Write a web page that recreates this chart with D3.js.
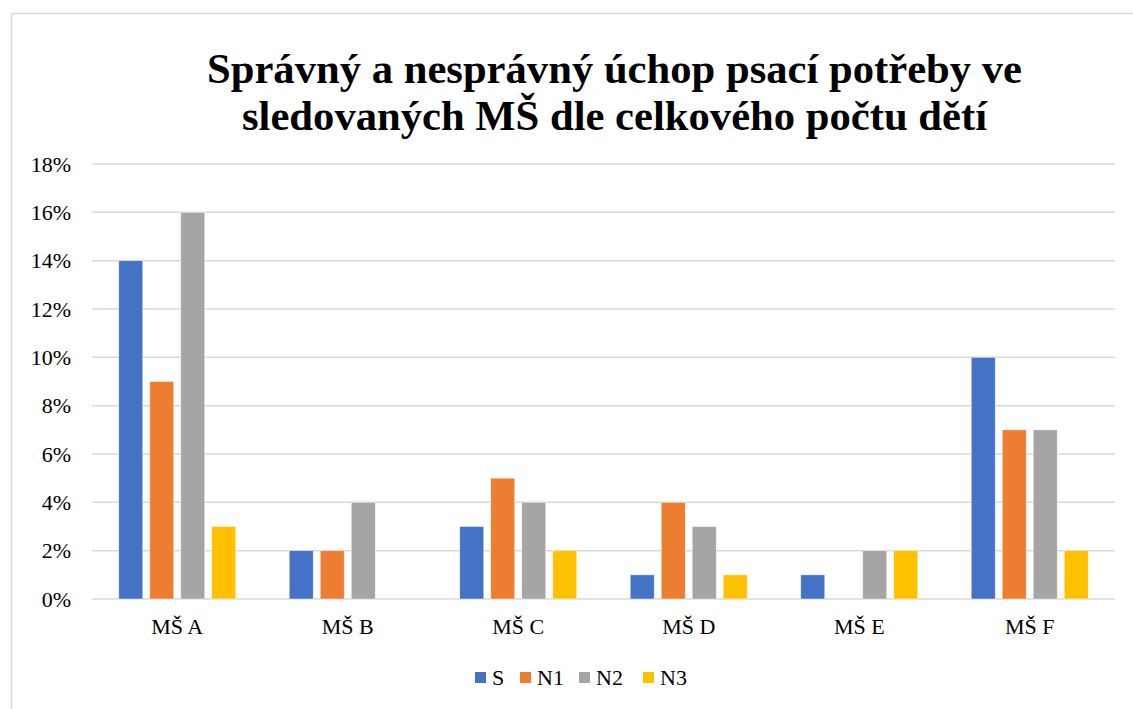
<!DOCTYPE html>
<html>
<head>
<meta charset="utf-8">
<script src="https://cdn.jsdelivr.net/npm/d3@7"></script>
<style>
  body { margin: 0; background: #fff; }
</style>
</head>
<body>
<div id="chart"></div>
<script>
const categories = ['MŠ A', 'MŠ B', 'MŠ C', 'MŠ D', 'MŠ E', 'MŠ F'];
const seriesNames = ['S', 'N1', 'N2', 'N3'];
const valuesS = [14, 2, 3, 1, 1, 10];
const valuesN1 = [9, 2, 5, 4, 0, 7];
const valuesN2 = [16, 4, 4, 3, 2, 7];
const valuesN3 = [3, 0, 2, 1, 2, 2];
const yTicks = [0, 2, 4, 6, 8, 10, 12, 14, 16, 18];
const titleLines = ['Správný a nesprávný úchop psací potřeby ve', 'sledovaných MŠ dle celkového počtu dětí'];

const colors = { S: '#4472C4', N1: '#ED7D31', N2: '#A5A5A5', N3: '#FFC000' };
const seriesValues = { S: valuesS, N1: valuesN1, N2: valuesN2, N3: valuesN3 };

const dim = { width: 1133, height: 709, left: 92, right: 1115, top: 164, bottom: 599 };
const serif = '"Liberation Serif"';

const svg = d3.select('#chart')
    .append('svg')
        .attr('width', dim.width)
        .attr('height', dim.height);

// chart frame
svg.append('rect')
    .attr('x', 11.5).attr('y', 13.5)
    .attr('width', 1140).attr('height', 720)
    .attr('fill', 'none')
    .attr('stroke', '#d9d9d9')
    .attr('stroke-width', 1.5);

const x0 = d3.scaleBand()
    .domain(categories)
    .range([dim.left, dim.right]);

const x1 = d3.scaleBand()
    .domain(seriesNames)
    .range([0, 117])
    .paddingInner(0.226);

const y = d3.scaleLinear()
    .domain([0, 18])
    .range([dim.bottom, dim.top]);

// gridlines
svg.append('g')
    .selectAll('line')
    .data(yTicks)
    .enter()
    .append('line')
        .attr('x1', dim.left)
        .attr('x2', dim.right)
        .attr('y1', d => y(d))
        .attr('y2', d => y(d))
        .attr('stroke', '#d9d9d9')
        .attr('stroke-width', 1.5);

// y tick labels
svg.append('g')
    .selectAll('text')
    .data(yTicks)
    .enter()
    .append('text')
        .attr('x', 71)
        .attr('y', d => y(d))
        .attr('dy', '0.35em')
        .attr('text-anchor', 'end')
        .style('font-family', serif)
        .style('font-size', '22px')
        .text(d => d + '%');

// bars
const groups = svg.append('g')
    .selectAll('g')
    .data(categories)
    .enter()
    .append('g')
        .attr('transform', d => `translate(${x0(d) + x0.bandwidth() / 2 - 58.5}, 0)`);

groups.selectAll('rect')
    .data((c, i) => seriesNames.map(s => ({ s, v: seriesValues[s][i] })))
    .enter()
    .append('rect')
        .attr('x', d => x1(d.s))
        .attr('width', x1.bandwidth())
        .attr('y', d => y(d.v))
        .attr('height', d => y(0) - y(d.v))
        .attr('fill', d => colors[d.s])
        .attr('stroke', '#fff')
        .attr('stroke-opacity', 0.6)
        .attr('stroke-width', 0.75);

// category labels
svg.append('g')
    .selectAll('text')
    .data(categories)
    .enter()
    .append('text')
        .attr('x', d => x0(d) + x0.bandwidth() / 2)
        .attr('y', 634)
        .attr('text-anchor', 'middle')
        .style('font-family', serif)
        .style('font-size', '22px')
        .text(d => d);

// title: the serif only matches at smaller sizes here, so draw at 36px and scale up
const titleScale = 43 / 36;
const titleWidths = [815, 745];
svg.append('g')
    .selectAll('text')
    .data(titleLines)
    .enter()
    .append('text')
        .attr('transform', (d, i) => `translate(614.5, ${83 + i * 47}) scale(${titleScale})`)
        .attr('text-anchor', 'middle')
        .attr('textLength', (d, i) => titleWidths[i] / titleScale)
        .attr('lengthAdjust', 'spacingAndGlyphs')
        .attr('font-size', '36px')
        .attr('font-weight', 'bold')
        .style('font-family', serif)
        .text(d => d);

// legend
const legendX = [475, 520, 579, 643];
const legend = svg.append('g');
seriesNames.forEach((s, i) => {
    legend.append('rect')
        .attr('x', legendX[i]).attr('y', 672)
        .attr('width', 11).attr('height', 11)
        .attr('fill', colors[s]);
    legend.append('text')
        .attr('x', legendX[i] + 17)
        .attr('y', 685)
        .style('font-family', serif)
        .style('font-size', '22px')
        .text(s);
});
</script>
</body>
</html>
